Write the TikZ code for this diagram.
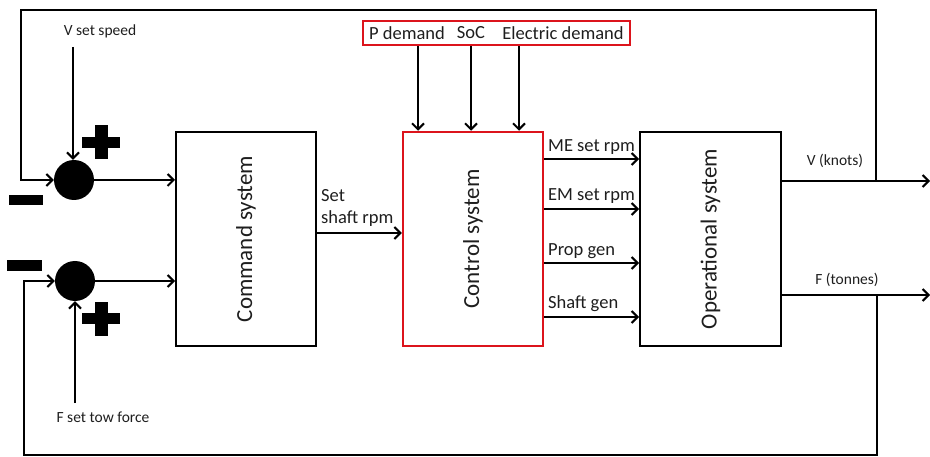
\documentclass[tikz,border=0pt]{standalone}
\usepackage{fontspec}
\setmainfont{Carlito}
\usetikzlibrary{arrows.meta}
\definecolor{boxred}{RGB}{220,20,28}
\definecolor{txt}{RGB}{30,30,30}
\tikzset{
  ln/.style={line width=2pt, black},
  arr/.style={ln, -{Straight Barb[length=6pt,width=12pt]}},
  blk/.style={draw, line width=2pt, minimum width=140pt, minimum height=214pt, inner sep=0pt},
  redblk/.style={blk, draw=boxred, line width=2.5pt},
  sum/.style={circle, fill=black, minimum size=40pt, inner sep=0pt},
  big/.style={font=\fontsize{23}{27}\selectfont, text=txt},
  mid/.style={font=\fontsize{18.5}{22}\selectfont, text=txt, inner sep=1pt},
  sml/.style={font=\fontsize{15.5}{18}\selectfont, text=txt, inner sep=1pt},
}
\begin{document}
\begin{tikzpicture}[x=1pt,y=-1pt]
\useasboundingbox (0,0) rectangle (930,457);
% blocks
\node[blk] (cmd) at (246,239) {};
\node[big, rotate=90] (cmdt) at (246,239) {Command system};
\node[redblk] (ctl) at (473,239) {};
\node[big, rotate=90] (ctlt) at (473,239) {Control system};
\node[blk, minimum width=141pt] (op) at (710.5,239) {};
\node[big, rotate=90] (opt) at (710.5,239) {Operational system};
% demand box
\node[draw=boxred, line width=2.5pt, minimum width=267pt, minimum height=24pt, inner sep=0pt] (dem) at (496.5,33) {};
\node[mid] (pd) at (407,33) {P demand};
\node[mid] (soc) at (471,33) {SoC};
\node[mid] (ed) at (563,33) {Electric demand};
\coordinate (a1) at (418,0);
\coordinate (a2) at (471,0);
\coordinate (a3) at (519,0);
\draw[arr] (dem.south -| a1) -- (ctl.north -| a1);
\draw[arr] (dem.south -| a2) -- (ctl.north -| a2);
\draw[arr] (dem.south -| a3) -- (ctl.north -| a3);
% summing junctions
\node[sum] (s1) at (74,180) {};
\node[sum] (s2) at (75,281) {};
% plus and minus signs
\fill (82,137) rectangle (120,148);
\fill (94.5,125) rectangle (107.5,159);
\fill (82,313) rectangle (120,324);
\fill (94.5,302) rectangle (107.5,336);
\fill (9,195) rectangle (43,205);
\fill (7,260) rectangle (42,271);
% set points
\node[sml] (vset) at (100,31) {V set speed};
\node[sml] (fset) at (103,417) {F set tow force};
\coordinate (vin) at (73,47);
\coordinate (fin) at (75,403);
\draw[arr] (vin) -- (vin |- s1.north);
\draw[arr] (fin) -- (fin |- s2.south);
% junction to command
\draw[arr] (s1.east) -- (s1.east -| cmd.west);
\draw[arr] (s2.east) -- (s2.east -| cmd.west);
% command to control
\coordinate (sr) at (0,233);
\draw[arr] (cmd.east |- sr) -- (ctl.west |- sr);
\node[mid, align=left, anchor=west] (srl) at (320,208) {Set\\shaft rpm};
% control to operational
\coordinate (o1) at (0,159);
\coordinate (o2) at (0,209);
\coordinate (o3) at (0,263);
\coordinate (o4) at (0,317);
\draw[arr] (ctl.east |- o1) -- (op.west |- o1);
\draw[arr] (ctl.east |- o2) -- (op.west |- o2);
\draw[arr] (ctl.east |- o3) -- (op.west |- o3);
\draw[arr] (ctl.east |- o4) -- (op.west |- o4);
\node[mid, anchor=west] (l1) at (547,147) {ME set rpm};
\node[mid, anchor=west] (l2) at (547,196) {EM set rpm};
\node[mid, anchor=west] (l3) at (547,251) {Prop gen};
\node[mid, anchor=west] (l4) at (547,304) {Shaft gen};
% outputs
\coordinate (vout) at (930,181);
\coordinate (fout) at (930,295);
\draw[arr] (op.east |- vout) -- (vout);
\draw[arr] (op.east |- fout) -- (fout);
\node[sml] (vl) at (835,161) {V (knots)};
\node[sml] (fl) at (847,280) {F (tonnes)};
% feedback loops
\coordinate (vtap) at (876,181);
\coordinate (tl) at (21,10);
\coordinate (ftap) at (877,295);
\coordinate (bl) at (24,455);
\draw[arr] (vtap) |- (tl) |- (s1.west);
\draw[arr] (ftap) |- (bl) |- (s2.west);
\end{tikzpicture}
\end{document}
